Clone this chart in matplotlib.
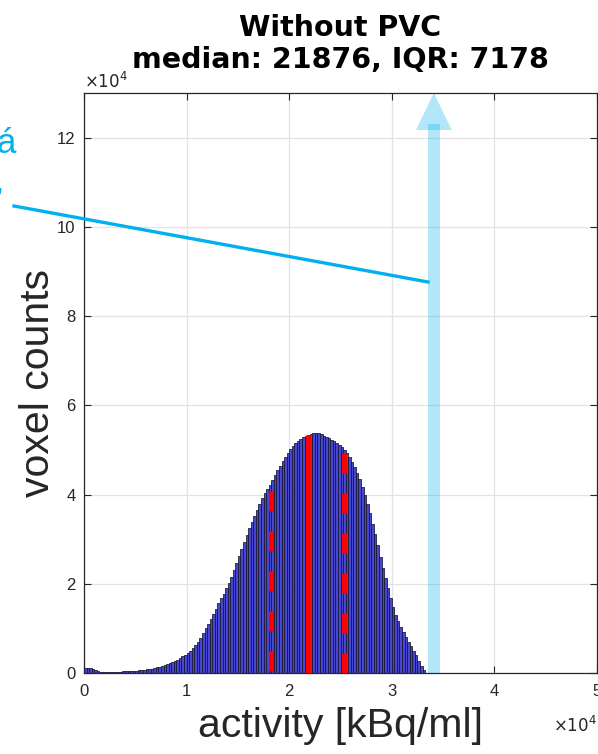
import matplotlib
matplotlib.use("Agg")
import matplotlib.pyplot as plt
import numpy as np
from matplotlib.patches import Rectangle, Polygon
from matplotlib.lines import Line2D

plt.rcParams['font.family'] = ['Liberation Sans', 'DejaVu Sans']

# ---------------- data ----------------
bin_width = 250.0
# histogram counts (in units of 1e4 voxels), bins start at 0 with width 250 kBq/ml
counts_e4 = [
    0.12, 0.12, 0.11, 0.09, 0.07, 0.04, 0.03, 0.02, 0.02, 0.02,
    0.02, 0.03, 0.03, 0.03, 0.03, 0.04, 0.04, 0.04, 0.05, 0.05,
    0.05, 0.06, 0.07, 0.07, 0.08, 0.09, 0.10, 0.11, 0.13, 0.14,
    0.16, 0.18, 0.20, 0.22, 0.24, 0.27, 0.30, 0.33, 0.37, 0.41,
    0.45, 0.50, 0.56, 0.63, 0.70, 0.79, 0.89, 1.00, 1.10, 1.21,
    1.32, 1.44, 1.56, 1.67, 1.78, 1.90, 2.02, 2.16, 2.30, 2.46,
    2.62, 2.78, 2.94, 3.09, 3.24, 3.38, 3.52, 3.66, 3.79, 3.92,
    4.03, 4.13, 4.22, 4.32, 4.43, 4.54, 4.65, 4.75, 4.85, 4.94,
    5.01, 5.08, 5.15, 5.20, 5.24, 5.28, 5.31, 5.34, 5.35, 5.37,
    5.38, 5.39, 5.36, 5.32, 5.29, 5.26, 5.23, 5.20, 5.16, 5.12,
    5.07, 5.00, 4.93, 4.85, 4.74, 4.62, 4.49, 4.35, 4.18, 3.99,
    3.79, 3.58, 3.35, 3.11, 2.86, 2.60, 2.35, 2.12, 1.90, 1.69,
    1.49, 1.31, 1.16, 1.03, 0.91, 0.80, 0.70, 0.60, 0.50, 0.40,
    0.28, 0.16, 0.06, 0.01,
]
median_val = 21876
q1_val = 18200
q3_val = 25378
median_top = 5.34e4
q1_top = 4.07e4
q3_top = 4.93e4

arrow_x = 3.41e4
arrow_shaft_top = 12.3e4
arrow_head_base = 12.17e4
arrow_tip = 13.0e4
arrow_shaft_w = 1170
arrow_head_w = 3500

title_lines = ["Without PVC", "median: 21876, IQR: 7178"]
xticks = [0, 1e4, 2e4, 3e4, 4e4, 5e4]
xticklabels = ["0", "1", "2", "3", "4", "5"]
yticks = [0, 2e4, 4e4, 6e4, 8e4, 10e4, 12e4]
yticklabels = ["0", "2", "4", "6", "8", "10", "12"]

# ---------------- figure ----------------
fig = plt.figure(figsize=(5.98, 7.54), dpi=100)
ax = fig.add_axes([84/598, 81/754, 513/598, 580/754])

tc = '#262626'
counts = np.array(counts_e4) * 1e4
edges = np.arange(len(counts) + 1) * bin_width
ax.bar(edges[:-1], counts, width=bin_width, align='edge',
       facecolor=(0.28, 0.28, 0.82), edgecolor='#15152e', linewidth=0.55, zorder=2)

ax.plot([median_val, median_val], [median_top, 0], color='red', lw=3.6,
        solid_capstyle='butt', zorder=3)
for xv, top in [(q1_val, q1_top), (q3_val, q3_top)]:
    ax.plot([xv, xv], [top, 0], color='red', lw=3.6, linestyle=(0, (4, 4)),
            dash_capstyle='butt', zorder=3)

# arrow (shaft + head, semi transparent)
cyan = '#00B0F0'
ax.add_patch(Rectangle((arrow_x - arrow_shaft_w/2, 0), arrow_shaft_w, arrow_shaft_top,
                       facecolor=cyan, alpha=0.3, edgecolor='none', zorder=4, clip_on=False))
ax.add_patch(Polygon([(arrow_x - arrow_head_w/2, arrow_head_base),
                      (arrow_x + arrow_head_w/2, arrow_head_base),
                      (arrow_x, arrow_tip)],
                     facecolor=cyan, alpha=0.3, edgecolor='none', zorder=4, clip_on=False))

ax.set_xlim(0, 5e4)
ax.set_ylim(0, 13e4)
ax.set_xticks(xticks)
ax.set_xticklabels(xticklabels)
ax.set_yticks(yticks)
ax.set_yticklabels(yticklabels)
ax.grid(True, color='#e3e3e3', lw=0.9, zorder=0)
ax.set_axisbelow(True)
ax.tick_params(direction='in', length=5, width=0.8, colors=tc, labelsize=12,
               top=True, right=True, labelcolor=tc)
ax.tick_params(axis='x', pad=8)
ax.tick_params(axis='y', pad=6)
for s in ax.spines.values():
    s.set_color(tc)
    s.set_linewidth(0.9)

ax.set_xlabel("activity [kBq/ml]", fontsize=29.5, color=tc, labelpad=6)
ax.set_ylabel("voxel counts", fontsize=29.5, color=tc, labelpad=0)
ax.set_title("\n".join(title_lines), fontsize=20.5, fontweight='bold',
             family='DejaVu Sans', linespacing=1.2, pad=18, color='black')

# exponent labels
ax.text(0.0, 1.004, r'$\times10^{4}$', transform=ax.transAxes, fontsize=12,
        color=tc, ha='left', va='bottom')
ax.text(1.0, -0.072, r'$\times10^{4}$', transform=ax.transAxes, fontsize=12,
        color=tc, ha='right', va='top')

# callout line and cut-off text on the left (figure level)
fig.add_artist(Line2D([14/598, 428/598], [1-206/754, 1-282/754],
                      transform=fig.transFigure, color=cyan, lw=2.4))
fig.text(-3/598, 1-153/754, "á", fontsize=25, color=cyan, ha='left', va='baseline')
fig.text(-4/598, 1-207/754, "’", fontsize=20, color=cyan, ha='left', va='baseline')

fig.savefig("out.png", dpi=100)
